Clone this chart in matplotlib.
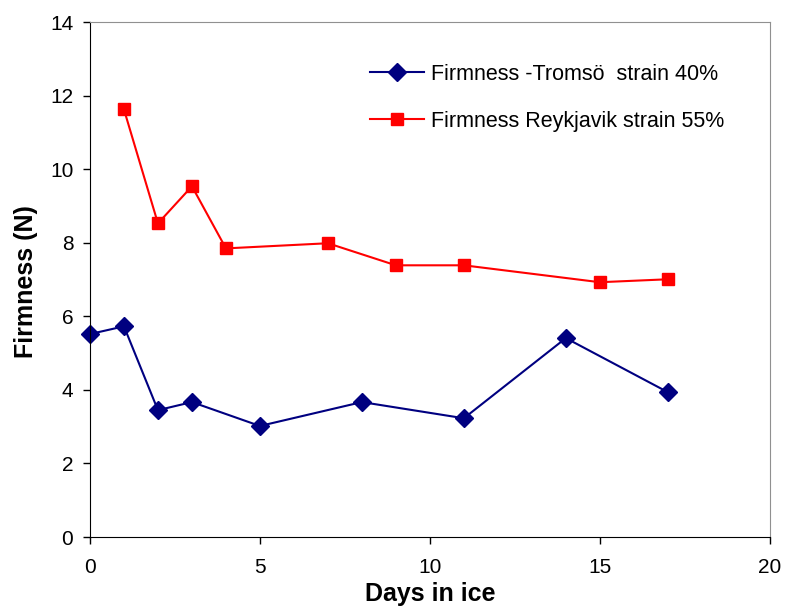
#===============================================================================
# Firmness of fish over days in ice, two strains
#===============================================================================
import matplotlib.pyplot as plt

plt.rcParams['font.family'] = ['Liberation Sans', 'DejaVu Sans']

# Data
days_tromso = [0, 1, 2, 3, 5, 8, 11, 14, 17]
firm_tromso = [5.52, 5.73, 3.45, 3.67, 3.02, 3.67, 3.23, 5.41, 3.94]
days_reyk = [1, 2, 3, 4, 7, 9, 11, 15, 17]
firm_reyk = [11.63, 8.53, 9.54, 7.85, 7.99, 7.39, 7.39, 6.93, 7.01]
label_tromso = 'Firmness -Tromsö  strain 40%'
label_reyk = 'Firmness Reykjavik strain 55%'

fig = plt.figure(figsize=(7.85, 6.07), dpi=100)
ax = fig.add_axes([0.1146, 0.1153, 0.866, 0.848])

ax.plot(days_tromso, firm_tromso, color='#000080', marker='D', markersize=9.5,
        linewidth=1.5, label=label_tromso, clip_on=False)
ax.plot(days_reyk, firm_reyk, color='#ff0000', marker='s', markersize=8,
        linewidth=1.5, label=label_reyk, clip_on=False)

ax.set_xlim(0, 20)
ax.set_ylim(0, 14)
ax.set_xticks(range(0, 21, 5))
ax.set_yticks(range(0, 15, 2))
ax.tick_params(direction='out', length=5, labelsize=15, width=1)
ax.tick_params(axis='x', pad=10)
ax.tick_params(axis='y', pad=7)

for s in ['top', 'right']:
    ax.spines[s].set_color('#909090')
for s in ['left', 'bottom']:
    ax.spines[s].set_color('black')

ax.set_xlabel('Days in ice', fontsize=18, fontweight='bold',
              family=['Liberation Sans Narrow', 'Liberation Sans'])
ax.set_ylabel('Firmness (N)', fontsize=18, fontweight='bold')
ax.xaxis.set_label_coords(0.5, -0.087)
ax.yaxis.set_label_coords(-0.077, 0.497)

ax.legend(loc='center left', bbox_to_anchor=(0.4118, 0.853), frameon=False,
          fontsize=15.5, handlelength=2.5, labelspacing=1.2, handletextpad=0.35,
          borderpad=0, borderaxespad=0)

plt.savefig('out.png', dpi=100)
